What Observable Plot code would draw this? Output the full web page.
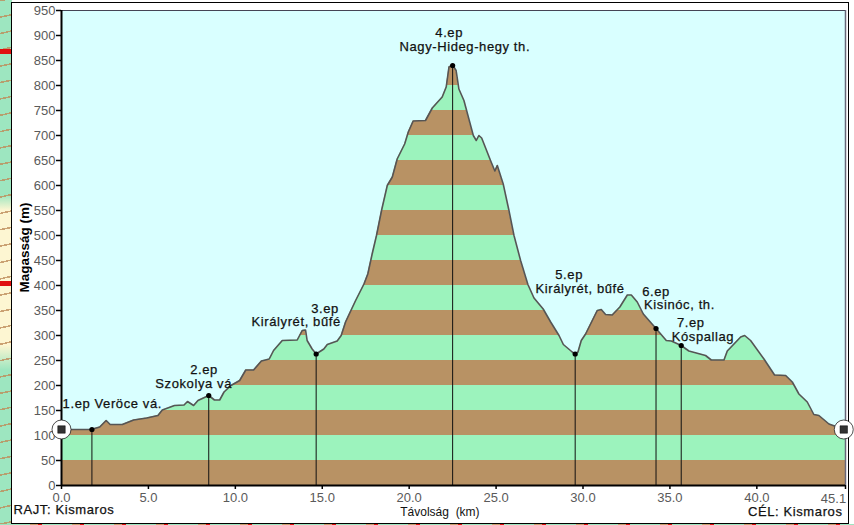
<!DOCTYPE html>
<html>
<head>
<meta charset="utf-8">
<script src="https://cdn.jsdelivr.net/npm/d3@7"></script>
<script src="https://cdn.jsdelivr.net/npm/@observablehq/plot@0.6"></script>
<style>
html,body{margin:0;padding:0;background:#fff;}
#page{position:relative;width:854px;height:525px;overflow:hidden;background:#fff;}
#map{position:absolute;left:0;top:0;width:12px;height:525px;
 background:
  linear-gradient(180deg,transparent 0 49px,#e01010 49px 54px,transparent 54px 281px,#e01010 281px 286px,transparent 286px),
  repeating-linear-gradient(168deg,rgba(190,140,90,.8) 0 1.5px,transparent 1.5px 16px),
  linear-gradient(180deg,#9de6c0 0 195px,#fdf6d2 210px 345px,#9de6c0 370px);}
#bottom{position:absolute;left:0;top:524px;width:854px;height:1px;background:repeating-linear-gradient(90deg,#9de6c0 0 30px,#c9a070 30px 38px,#e01010 38px 42px);}
#panel{position:absolute;left:11px;top:2px;width:838px;height:522px;box-sizing:border-box;border:1.5px solid #000;background:#fff;}
#plot{position:absolute;left:0;top:0;}
#plot svg{background:transparent!important;}
.spaced text{letter-spacing:0.6px;}
</style>
</head>
<body>
<div id="page"><div id="map"></div><div id="bottom"></div><div id="panel"></div><div id="plot"></div></div>
<script>
const distanceKm = [0,1.7,2.2,2.57,2.8,3.5,4.15,4.9,5.55,5.8,6.5,7.05,7.25,7.6,7.85,8.47,8.8,9.1,9.35,9.75,10.25,10.6,11.05,11.5,11.95,12.2,12.7,13.56,13.85,14.04,14.13,14.42,14.65,15.09,15.29,15.86,16.09,16.34,16.92,17.4,17.62,17.87,18.12,18.41,18.74,19.03,19.31,19.74,19.95,20.23,20.94,21.33,21.9,22.13,22.29,22.5,22.7,22.86,23.15,23.69,23.86,24.01,24.17,24.68,24.93,25.07,25.41,25.74,26.03,26.41,26.83,27.18,27.71,28.14,28.62,28.87,29.38,29.53,29.71,29.9,30.15,30.82,31.05,31.3,31.68,32.12,32.55,32.78,33.12,33.47,34.2,34.79,35.08,35.65,36.09,37.05,37.38,38.11,38.3,39.07,39.3,39.64,40.41,41.02,41.66,42.04,42.42,42.9,43.28,43.57,44.15,44.63,45.1];
const elevationM = [112,112,117,130,122,122,131,135,140,151,160,161,168,160,170,180,171,171,187,200,210,231,231,249,253,270,290,291,310,311,290,273,263,273,282,289,300,327,370,403,423,463,500,550,600,617,653,683,707,729,730,755,777,797,837,841,830,793,770,700,690,700,695,650,629,640,603,550,500,450,402,375,353,327,300,282,267,263,267,290,303,350,352,342,341,357,381,381,367,343,314,290,289,280,269,260,251,251,269,297,300,290,253,221,220,207,183,167,142,140,123,117,112];

const stageKm = [1.75,8.47,14.65,22.5,29.55,34.2,35.65];
const stageM = [112,180,263,840,263,314,280];

const labelLines = ["1.ep Veröce vá.","2.ep","Szokolya vá","3.ep","Királyrét, bűfé","4.ep","Nagy-Hideg-hegy th.","5.ep","Királyrét, bűfé","6.ep","Kisinóc, th.","7.ep","Kóspallag"];
const labelKm = [2.92,8.2,7.6,15.16,13.5,22.3,23.2,29.2,29.83,34.2,35.55,36.2,36.9];
const labelM = [164,232,204,354,328,906,878,422,394,388,362,326,298];

const bandLow = d3.range(0,850,50);
const yTicks = d3.range(0,951,50);
const xTicks = [0,5,10,15,20,25,30,35,40,45.1];
const xTickLabels = ["0.0","5.0","10.0","15.0","20.0","25.0","30.0","35.0","40.0",""];
const lastTickLabel = "45.1";
const endKm = [0,45];
const endM = [112,112];

const profile = distanceKm.map((km,i)=>({km,m:elevationM[i]}));
const stages = stageKm.map((km,i)=>({km,m:stageM[i]}));
const labels = labelLines.map((t,i)=>({t,km:labelKm[i],m:labelM[i]}));
const ends = endKm.map((km,i)=>({km,m:endM[i]}));
const font = "'Liberation Sans',Arial,sans-serif";
const labelStyle = {fontSize:13,fill:"#111",stroke:"#111",strokeWidth:0.25,className:"spaced"};

const chart = Plot.plot({
  width:854,height:525,
  marginLeft:61,marginRight:9,marginTop:10,marginBottom:40,
  style:{fontFamily:font,background:"transparent",overflow:"visible"},
  x:{domain:[0,45.1]},
  y:{domain:[0,950]},
  marks:[
    Plot.rectY(bandLow,{x1:0,x2:45.1,y1:d=>d,y2:d=>d+50,fill:d=>d%100===0?"#b89264":"#9cf3bd"}),
    Plot.areaY(profile,{x:"km",y1:"m",y2:950,fill:"#d9ffff"}),
    Plot.ruleX(stages,{x:"km",y1:0,y2:"m",stroke:"#111",strokeWidth:1}),
    Plot.line(profile,{x:"km",y:"m",stroke:"#555",strokeWidth:1.6}),
    Plot.dot(stages,{x:"km",y:"m",r:2.6,fill:"#000"}),
    Plot.ruleX([45.1],{y1:0,y2:950,stroke:"#667",strokeWidth:1.5}),
    Plot.ruleY([950],{x1:0,x2:45.1,stroke:"#445",strokeWidth:1}),
    Plot.ruleX([0],{y1:0,y2:950,stroke:"#000",strokeWidth:2}),
    Plot.ruleY([0],{x1:0,x2:45.1,stroke:"#000",strokeWidth:2}),
    Plot.axisY({ticks:yTicks,tickSize:5,tickPadding:1,label:null,fontSize:13,fill:"#5a5a5a",stroke:"#000",strokeWidth:1.5,tickFormat:d=>String(d)}),
    Plot.axisX({ticks:xTicks,tickSize:4,tickPadding:3,label:null,fontSize:13,fill:"#5a5a5a",stroke:"#000",strokeWidth:1.5,tickFormat:d=>xTickLabels[xTicks.indexOf(d)]}),
    Plot.text([lastTickLabel],{x:45.1,y:0,dx:-12,dy:13,fontSize:13,fill:"#5a5a5a"}),
    Plot.text(labels,{x:"km",y:"m",text:"t",...labelStyle}),
    Plot.dot(ends,{x:"km",y:"m",r:9.5,fill:"#fff",stroke:"#222",strokeWidth:0.8}),
    Plot.dot(ends,{x:"km",y:"m",r:4.2,symbol:"square",fill:"#333",stroke:"#000",strokeWidth:0.5}),
    Plot.text(["Magasság (m)"],{x:0,y:476,dx:-37,rotate:-90,textAnchor:"middle",fontSize:13.5,fontWeight:"bold",fill:"#000"}),
    Plot.text(["RAJT: Kismaros"],{x:0,y:0,dx:-48,dy:24,textAnchor:"start",...labelStyle}),
    Plot.text(["Távolság  (km)"],{x:21.77,y:0,dy:27,fontSize:12,fill:"#111"}),
    Plot.text(["CÉL: Kismaros"],{x:45.1,y:0,dx:-3,dy:26,textAnchor:"end",...labelStyle})
  ]
});
document.getElementById("plot").appendChild(chart);
</script>
</body>
</html>
